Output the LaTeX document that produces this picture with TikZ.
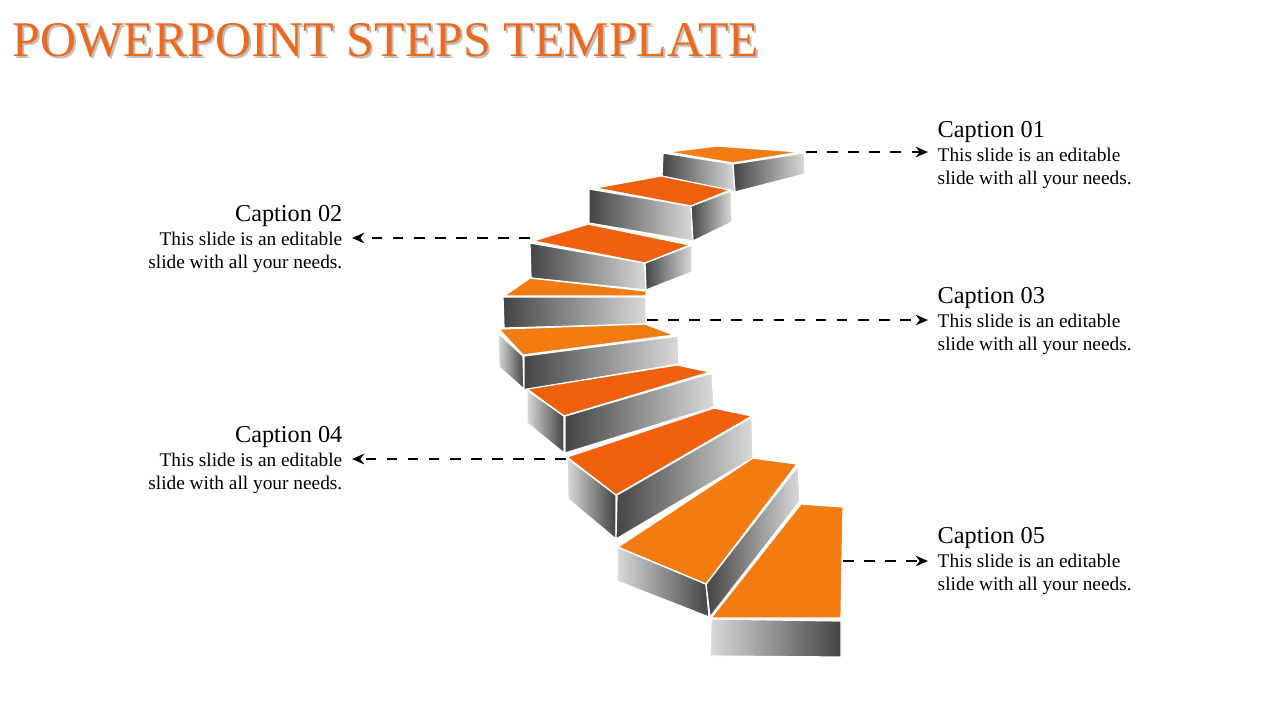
\documentclass[tikz,border=0pt]{standalone}
\usepackage{fontspec}
\setmainfont{Liberation Serif}
\usetikzlibrary{arrows.meta}
\definecolor{orA}{RGB}{242,123,18}
\definecolor{orB}{RGB}{241,96,13}
\definecolor{orT}{RGB}{236,105,30}
\definecolor{dk}{RGB}{68,68,68}
\definecolor{lt}{RGB}{218,218,218}
\tikzset{top face/.style={fill=#1,draw=white,line width=0.35pt},
         dl face/.style={left color=dk,right color=lt,draw=white,line width=0.35pt},
         ld face/.style={left color=lt,right color=dk,draw=white,line width=0.35pt},
         cap head/.style={font=\fontsize{6.9pt}{7.5pt}\selectfont,inner sep=0pt},
         cap body/.style={font=\fontsize{5.5pt}{6.5pt}\selectfont,inner sep=0pt,align=#1},
         lead/.style={dashed,line width=0.45pt,-{Stealth[length=3.5pt,width=3pt]}}}
\begin{document}
\begin{tikzpicture}[x=0.01cm,y=-0.01cm]
  \useasboundingbox (0,0) rectangle (1280,720);

  \node[anchor=west,text=black!25,font=\fontsize{14.2pt}{15pt}\selectfont,inner sep=0pt] (shadow) at (14,42) {POWERPOINT STEPS TEMPLATE};
  \node[anchor=west,text=orT,font=\fontsize{14.2pt}{15pt}\selectfont,inner sep=0pt] (title) at (12,40) {POWERPOINT STEPS TEMPLATE};

  % step 1
  \shade[dl face] (663,153) -- (733,164) -- (735,192) -- (662,176) -- cycle;
  \shade[dl face] (733,164) -- (804,153) -- (805,174) -- (735,192) -- cycle;
  \fill[top face=orA] (668,152) -- (717,146) -- (800,152) -- (733,163) -- cycle;
  % step 2
  \shade[dl face] (589,189) -- (691,206) -- (693,241) -- (589,223) -- cycle;
  \shade[dl face] (691,206) -- (731,191) -- (732,222) -- (693,241) -- cycle;
  \fill[top face=orB] (595,188) -- (661,176) -- (730,190) -- (691,206) -- cycle;
  % step 3
  \shade[dl face] (530,243) -- (645,263) -- (646,290) -- (531,278) -- cycle;
  \shade[dl face] (645,263) -- (692,245) -- (692,272) -- (646,290) -- cycle;
  \fill[top face=orB] (533,241) -- (588,224) -- (690,245) -- (645,263) -- cycle;
  % step 4
  \shade[dl face] (503,297) -- (646,297) -- (646,324) -- (504,328) -- cycle;
  \fill[top face=orA] (504,296) -- (530,278) -- (646,291) -- (646,296) -- cycle;
  % step 5
  \shade[ld face] (498,333) -- (523,356) -- (524,389) -- (499,367) -- cycle;
  \shade[dl face] (524,356) -- (678,336) -- (679,364) -- (524,390) -- cycle;
  \fill[top face=orA] (499,329) -- (645,324) -- (674,335) -- (523,355) -- cycle;
  % step 6
  \shade[ld face] (527,390) -- (564,416) -- (564,453) -- (527,423) -- cycle;
  \shade[dl face] (565,416) -- (712,373) -- (714,407) -- (565,453) -- cycle;
  \fill[top face=orB] (527,389) -- (677,365) -- (710,372) -- (564,416) -- cycle;
  % step 7
  \shade[ld face] (567,458) -- (616,495) -- (616,539) -- (568,499) -- cycle;
  \shade[dl face] (617,495) -- (752,417) -- (753,458) -- (616,539) -- cycle;
  \fill[top face=orB] (567,457) -- (714,408) -- (752,416) -- (616,495) -- cycle;
  % step 8
  \shade[ld face] (617,547) -- (706,584) -- (709,617) -- (617,581) -- cycle;
  \shade[dl face] (706,584) -- (798,466) -- (800,501) -- (710,617) -- cycle;
  \fill[top face=orA] (618,547) -- (753,458) -- (797,464) -- (706,584) -- cycle;
  % step 9
  \shade[ld face] (711,619) -- (841,621) -- (841,657) -- (710,656) -- cycle;
  \fill[top face=orA] (711,618) -- (801,504) -- (843,507) -- (841,618) -- cycle;

  \coordinate (s1) at (806,152);
  \coordinate (e1) at (928,152);
  \coordinate (s2) at (530,238);
  \coordinate (e2) at (352,238);
  \coordinate (s3) at (647,320);
  \coordinate (e3) at (928,320);
  \coordinate (s4) at (566,459);
  \coordinate (e4) at (352,459);
  \coordinate (s5) at (843,561);
  \coordinate (e5) at (928,561);

  % captions
  \node[cap head,anchor=west] (c1) at (937,132) {Caption 01};
  \node[cap body=left,anchor=north west] (t1) at (937,147) {This slide is an editable\\slide with all your needs.};
  \node[cap head,anchor=east] (c2) at (343,216) {Caption 02};
  \node[cap body=right,anchor=north east] (t2) at (343,231) {This slide is an editable\\slide with all your needs.};
  \node[cap head,anchor=west] (c3) at (937,298) {Caption 03};
  \node[cap body=left,anchor=north west] (t3) at (937,313) {This slide is an editable\\slide with all your needs.};
  \node[cap head,anchor=east] (c4) at (343,437) {Caption 04};
  \node[cap body=right,anchor=north east] (t4) at (343,452) {This slide is an editable\\slide with all your needs.};
  \node[cap head,anchor=west] (c5) at (937,538) {Caption 05};
  \node[cap body=left,anchor=north west] (t5) at (937,553) {This slide is an editable\\slide with all your needs.};

  \foreach \i in {1,...,5}
    \draw[lead] (s\i) -- (e\i);
\end{tikzpicture}
\end{document}
